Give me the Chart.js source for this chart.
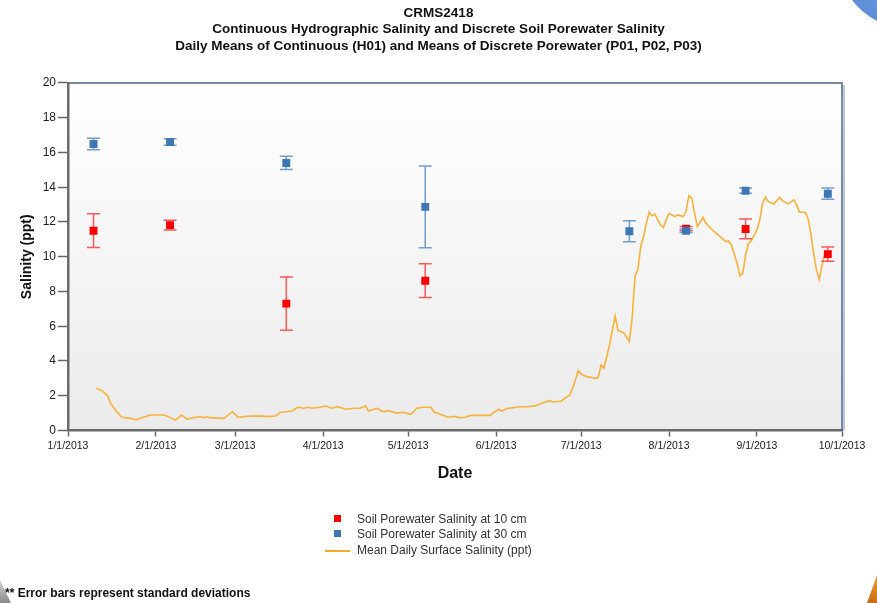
<!DOCTYPE html>
<html>
<head>
<meta charset="utf-8">
<script src="https://cdn.jsdelivr.net/npm/chart.js@4.4.1/dist/chart.umd.min.js"></script>
<style>
  html, body { margin: 0; padding: 0; background: #ffffff; }
  #wrap { position: relative; width: 877px; height: 603px; overflow: hidden; background: #ffffff; font-family: "Liberation Sans", Arial, sans-serif; }
  #c { position: absolute; left: 0; top: 0; }
  .lg { position: absolute; font-size: 12px; color: #333; white-space: nowrap; line-height: 14px; }
  .sq { position: absolute; width: 7px; height: 7px; }
  .ln { position: absolute; height: 2px; background: #f7a928; }
  #foot { position: absolute; left: 5px; top: 586px; font-family: "Liberation Sans Narrow", "Arial Narrow", "Liberation Sans", Arial, sans-serif; font-weight: bold; font-size: 12px; color: #111; white-space: nowrap; }
  #deco1 { position: absolute; left: 838px; top: -112px; width: 140px; height: 140px; border-radius: 50%; background: radial-gradient(circle at 30% 70%, #6b9be0, #2f63b8); }
  #deco2 { position: absolute; left: 0; top: 580px; width: 11px; height: 23px; background: linear-gradient(#d8d8d8, #8a8a8a); clip-path: polygon(0 0, 100% 100%, 0 100%); }
  #deco3 { position: absolute; left: 867px; top: 575px; width: 10px; height: 28px; background: linear-gradient(#f0a040, #c86a10); clip-path: polygon(100% 0, 100% 100%, 0 100%); }
</style>
</head>
<body>
<div id="wrap">
  <canvas id="c" width="877" height="603"></canvas>
  <div id="deco1"></div>
  <div id="deco2"></div>
  <div id="deco3"></div>
  <div class="sq" style="left:334px;top:515px;background:#ff0000"></div>
  <div class="lg" style="left:357px;top:512px">Soil Porewater Salinity at 10 cm</div>
  <div class="sq" style="left:334px;top:530px;background:#3d78b4"></div>
  <div class="lg" style="left:357px;top:527px">Soil Porewater Salinity at 30 cm</div>
  <div class="ln" style="left:325px;top:550px;width:25px"></div>
  <div class="lg" style="left:357px;top:543px">Mean Daily Surface Salinity (ppt)</div>
  <div id="foot">** Error bars represent standard deviations</div>
</div>
<script>
// ---------- data (x values are days since 1/1/2013) ----------
const titleLines = [
  'CRMS2418',
  'Continuous Hydrographic Salinity and Discrete Soil Porewater Salinity',
  'Daily Means of Continuous (H01) and Means of Discrete Porewater (P01, P02, P03)'
];
const tickDays = [0, 31, 59, 90, 120, 151, 181, 212, 243, 273];
const tickLabels = ['1/1/2013', '2/1/2013', '3/1/2013', '4/1/2013', '5/1/2013',
                    '6/1/2013', '7/1/2013', '8/1/2013', '9/1/2013', '10/1/2013'];

// discrete porewater sampling days: 1/10, 2/6, 3/19, 5/7, 7/18, 8/7, 8/28, 9/26
const sampleDays = [9, 36, 77, 126, 198, 218, 239, 268];
const salinity10 = [11.5, 11.82, 7.3, 8.62, null, 11.62, 11.6, 10.15];
const sd10       = [0.97, 0.28, 1.53, 0.97, null, 0.12, 0.57, 0.41];
const salinity30 = [16.49, 16.6, 15.4, 12.87, 11.47, 11.5, 13.8, 13.63];
const sd30       = [0.33, 0.19, 0.38, 2.35, 0.6, 0.1, 0.15, 0.32];

const surfaceDays = [10,12,13,14,15,17,19,22,24,26,29,34,36,38,40,42,46,48,49,50,55,58,60,63,68,70,73,75,77,79,81,83,85,86,89,91,93,95,98,101,103,105,106,109,111,113,116,118,121,123,125,128,129,132,134,136,138,140,142,146,149,
  150,152,153,155,157,159,162,165,167,170,171,174,175,177,178,180,181,183,186,187,188,189,191,193,194,196,198,199,200,201,202,203,204,205,206,207,209,210,211,212,214,215,217,218,219,220,221,222,224,225,227,230,232,233,234,236,237,238,239,240,241,243,244,245,246,247,249,251,252,254,256,257,258,260,261,262,263,264,265,266,267];
const surfaceSalinity = [2.43,2.29,2.15,2.0,1.56,1.12,0.76,0.70,0.62,0.74,0.89,0.89,0.74,0.60,0.89,0.66,0.79,0.74,0.79,0.74,0.70,1.08,0.76,0.82,0.84,0.80,0.83,1.05,1.08,1.12,1.34,1.28,1.34,1.28,1.34,1.41,1.28,1.37,1.22,1.28,1.28,1.41,1.12,1.28,1.08,1.14,0.99,1.05,0.93,1.28,1.34,1.34,1.08,0.89,0.76,0.82,0.74,0.76,0.87,0.87,0.87,
  1.03,1.22,1.12,1.28,1.30,1.37,1.37,1.43,1.57,1.72,1.64,1.68,1.83,2.04,2.43,3.44,3.25,3.10,3.0,3.05,3.77,3.58,4.92,6.59,5.75,5.63,5.11,6.5,8.9,9.24,10.58,11.16,11.93,12.56,12.35,12.45,11.83,11.68,12.12,12.5,12.31,12.41,12.31,12.6,13.52,13.37,12.5,11.73,12.27,11.93,11.58,11.16,10.87,10.91,10.68,9.63,8.91,9.05,10.1,10.78,10.91,11.54,12.12,13.08,13.43,13.17,13.04,13.43,13.23,13.04,13.27,12.98,12.56,12.56,12.22,11.35,10.2,9.24,8.7,9.53,10.24];

// ---------- build datasets ----------
const pts = (xs, ys) => xs.map((x, i) => ({ x: x, y: ys[i] })).filter(p => p.y !== null);
const errorSets = { sd10: { vals: salinity10, sd: sd10 }, sd30: { vals: salinity30, sd: sd30 } };

const plotBg = {
  id: 'plotBg',
  beforeDraw(chart) {
    const { ctx, chartArea: a } = chart;
    const g = ctx.createLinearGradient(0, a.top, 0, a.bottom);
    g.addColorStop(0, '#ffffff');
    g.addColorStop(1, '#ebebeb');
    ctx.save();
    ctx.fillStyle = g;
    ctx.fillRect(a.left, a.top, a.right - a.left, a.bottom - a.top);
    ctx.restore();
  },
  afterDraw(chart) {
    const { ctx, chartArea: a } = chart;
    ctx.save();
    ctx.strokeStyle = '#b9c8dc';
    ctx.lineWidth = 2;
    ctx.beginPath();
    ctx.moveTo(a.right + 2, a.top + 2); ctx.lineTo(a.right + 2, a.bottom);
    ctx.stroke();
    ctx.strokeStyle = '#4d6584';
    ctx.lineWidth = 1.5;
    ctx.beginPath();
    ctx.moveTo(a.left, a.top); ctx.lineTo(a.right, a.top); ctx.lineTo(a.right, a.bottom);
    ctx.stroke();
    ctx.restore();
  }
};

const errorBars = {
  id: 'errorBars',
  beforeDatasetDraw(chart, args) {
    const ds = chart.data.datasets[args.index];
    if (!ds.errKey) return;
    const set = errorSets[ds.errKey];
    const xs = chart.scales.x, ys = chart.scales.y;
    const ctx = chart.ctx;
    ctx.save();
    ctx.strokeStyle = ds.errColor;
    ctx.lineWidth = 1.5;
    sampleDays.forEach((d, i) => {
      const v = set.vals[i], s = set.sd[i];
      if (v === null || s === null) return;
      const px = xs.getPixelForValue(d);
      const top = ys.getPixelForValue(v + s);
      const bot = ys.getPixelForValue(v - s);
      ctx.beginPath();
      ctx.moveTo(px, top); ctx.lineTo(px, bot);
      ctx.moveTo(px - 6.5, top); ctx.lineTo(px + 6.5, top);
      ctx.moveTo(px - 6.5, bot); ctx.lineTo(px + 6.5, bot);
      ctx.stroke();
    });
    ctx.restore();
  }
};

new Chart(document.getElementById('c'), {
  type: 'scatter',
  data: {
    datasets: [
      {
        label: 'Soil Porewater Salinity at 30 cm',
        data: pts(sampleDays, salinity30),
        pointStyle: 'rect', pointRadius: 5.6, pointHoverRadius: 5.6,
        backgroundColor: '#3d78b4', borderColor: '#3d78b4', borderWidth: 0,
        errKey: 'sd30', errColor: 'rgba(100,148,200,0.9)', order: 0
      },
      {
        label: 'Soil Porewater Salinity at 10 cm',
        data: pts(sampleDays, salinity10),
        pointStyle: 'rect', pointRadius: 5.6, pointHoverRadius: 5.6,
        backgroundColor: '#ff0000', borderColor: '#ff0000', borderWidth: 0,
        errKey: 'sd10', errColor: 'rgba(255,70,70,0.9)', order: 1
      },
      {
        label: 'Mean Daily Surface Salinity (ppt)',
        data: pts(surfaceDays, surfaceSalinity),
        showLine: true, pointRadius: 0, borderColor: '#f9b13a', borderWidth: 1.6,
        tension: 0, order: 2
      }
    ]
  },
  options: {
    responsive: false,
    animation: false,
    devicePixelRatio: 1,
    layout: { padding: { left: 0, right: 0, top: 0, bottom: 119.5 } },
    plugins: {
      legend: { display: false },
      tooltip: { enabled: false },
      title: {
        display: true,
        text: titleLines,
        color: '#111',
        font: { family: '"Liberation Sans", Arial, sans-serif', size: 13.5, weight: 'bold', lineHeight: 1.222 },
        padding: { top: 4.75, bottom: 28.75 }
      }
    },
    scales: {
      x: {
        type: 'linear',
        min: 0, max: 273,
        afterBuildTicks(scale) { scale.ticks = tickDays.map(v => ({ value: v })); },
        afterFit(scale) { scale.height = 53; },
        ticks: {
          callback: (v, i) => tickLabels[i],
          color: '#222',
          maxRotation: 0, autoSkip: false, padding: 3,
          font: { family: '"Liberation Sans", Arial, sans-serif', size: 10.5 }
        },
        grid: { drawOnChartArea: false, drawTicks: true, tickLength: 6, color: '#666', tickWidth: 1.5 },
        border: { display: true, color: '#6b6b6b', width: 2.5 },
        title: {
          display: true, text: 'Date', color: '#111',
          font: { family: '"Liberation Sans", Arial, sans-serif', size: 16, weight: 'bold', lineHeight: 1.2 },
          padding: { top: 0, bottom: 0 }
        }
      },
      y: {
        type: 'linear',
        min: 0, max: 20,
        afterFit(scale) { scale.width = 68; },
        ticks: {
          stepSize: 2, color: '#222', padding: 2,
          font: { family: '"Liberation Sans", Arial, sans-serif', size: 12 }
        },
        grid: { drawOnChartArea: false, drawTicks: true, tickLength: 10, color: '#666', tickWidth: 1.5 },
        border: { display: true, color: '#6b6b6b', width: 2.5 },
        title: {
          display: true, text: 'Salinity (ppt)', color: '#111',
          font: { family: '"Liberation Sans", Arial, sans-serif', size: 14, weight: 'bold', lineHeight: 1.2 },
          padding: { top: 18.5, bottom: 0 }
        }
      },
      yRight: {
        type: 'linear',
        position: 'right',
        min: 0, max: 20,
        afterFit(scale) { scale.width = 35; },
        ticks: { display: false },
        grid: { display: false, drawTicks: false },
        border: { display: false },
        title: { display: false }
      }
    }
  },
  plugins: [plotBg, errorBars]
});
</script>
</body>
</html>
